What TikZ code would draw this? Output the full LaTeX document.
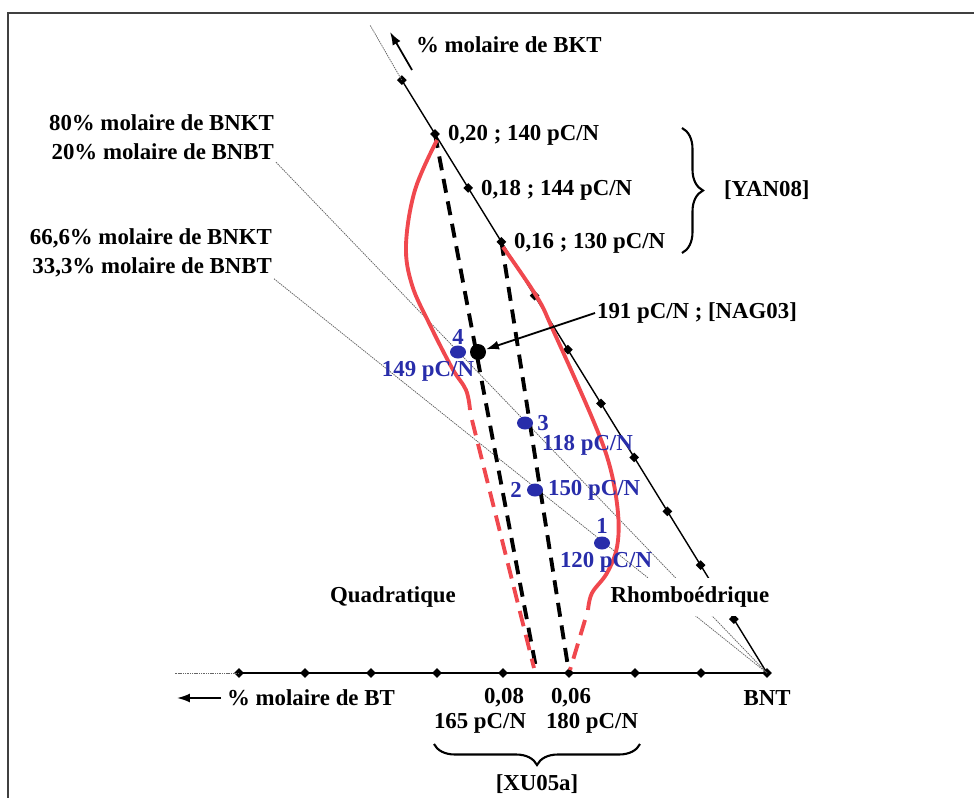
\documentclass[tikz,border=0pt]{standalone}
\usepackage{fontspec}
\setmainfont{Liberation Serif}
\usetikzlibrary{shapes.geometric,decorations.pathreplacing,arrows.meta}

\definecolor{ptblue}{RGB}{40,45,170}
\definecolor{ptred}{RGB}{240,72,78}

\begin{document}
\begin{tikzpicture}[x=0.02cm, y=-0.02cm,
    lbl/.style={font=\fontsize{13}{15}\selectfont\bfseries, inner sep=1pt},
    bluelbl/.style={lbl, text=ptblue},
    tick/.style={diamond, fill=black, inner sep=0pt, minimum size=0.2cm},
    axisline/.style={line width=0.8pt},
    faint/.style={line width=0.45pt, black!60, dash pattern=on 0.8pt off 0.5pt},
    phase/.style={line width=2.2pt, dash pattern=on 8pt off 5pt},
    redline/.style={line width=2.2pt, ptred},
    reddash/.style={line width=2.2pt, ptred, dash pattern=on 9pt off 5pt},
    bdot/.style={ellipse, fill=ptblue, inner sep=0pt, minimum width=0.32cm, minimum height=0.26cm},
    ptr/.style={line width=1pt, -{Latex[length=2.6mm, width=1.8mm]}},
    brc/.style={line width=1.2pt, decorate, decoration={brace, amplitude=0.42cm}}]

    \useasboundingbox (0,0) rectangle (974,798);
    \draw[line width=1.1pt, black!75] (974,13) -- (8,13) -- (8,798);

    % the two axes from BNT
    \node[tick] (bnt) at (767,673) {};
    \foreach \k in {1,...,8}
        \node[tick] (h\k) at ({767-66*\k},673) {};
    \foreach \k in {1,...,11}
        \node[tick] (k\k) at ({767-33.2*\k},{673-53.9*\k}) {};

    \coordinate (bktend) at (370,25);
    \coordinate (btend) at (175,673);
    \draw[faint] (k11.center) -- (bktend);
    \draw[faint] (h8.center) -- (btend);
    \draw[axisline] (bnt.center) -- (k11.center);
    \draw[axisline] (bnt.center) -- (h8.center);

    \coordinate (bktA) at (412,70);
    \coordinate (bktB) at (390,32);
    \draw[ptr] (bktA) -- (bktB);
    \node[lbl, anchor=west] (bktlbl) at (414,45) {\% molaire de BKT};

    % compositions BNKT / BNBT
    \node[lbl, anchor=east] (bnkt1) at (276,123) {80\% molaire de BNKT};
    \node[lbl, anchor=east] (bnbt1) at (276,152) {20\% molaire de BNBT};
    \node[lbl, anchor=east] (bnkt2) at (274,238) {66,6\% molaire de BNKT};
    \node[lbl, anchor=east] (bnbt2) at (274,267) {33,3\% molaire de BNBT};
    \draw[faint] (bnbt1.south east) -- (bnt.center);
    \draw[faint] (bnbt2.south east) -- (bnt.center);

    % phase boundaries
    \coordinate (x07) at (537,673);
    \draw[phase] (k10.center) -- (x07);
    \draw[phase] (k8.center) -- (h3.center);

    \draw[redline] plot[smooth, tension=0.6] coordinates {(437,140) (415,190) (406,245)
        (412,285) (430,325) (452,368) (466,390) (470,410)};
    \draw[reddash] (472,420) -- (534,668);
    \draw[redline] plot[smooth, tension=0.6] coordinates {(503,247) (537,297) (553,330)
        (593,420) (610,467) (618,513) (617,547) (607,573) (592,593) (588,610)};
    \draw[reddash] (585,620) -- (570,670);

    % measured points
    \node[bdot] (p4) at (458,352) {};
    \node[bdot] (p3) at (525,423) {};
    \node[bdot] (p2) at (535,490) {};
    \node[bdot] (p1) at (602,543) {};
    \node[circle, fill=black, inner sep=0pt, minimum size=0.32cm] (nag) at (478,352) {};

    \node[bluelbl] (n4) at (458,337) {4};
    \node[bluelbl] (v4) at (428,371) {149 pC/N};
    \node[bluelbl] (n3) at (543,423) {3};
    \node[bluelbl, anchor=west] (v3) at (540,445) {118 pC/N};
    \node[bluelbl] (n2) at (516,490) {2};
    \node[bluelbl, anchor=west] (v2) at (546,490) {150 pC/N};
    \node[bluelbl] (n1) at (602,526) {1};
    \node[bluelbl] (v1) at (606,562) {120 pC/N};

    \node[lbl, anchor=west] (naglbl) at (595,313) {191 pC/N ; [NAG03]};
    \draw[ptr] (naglbl.west) -- (nag);

    % values on the BKT axis
    \node[lbl, anchor=west] (y20) at (446,135) {0,20 ; 140 pC/N};
    \node[lbl, anchor=west] (y18) at (479,190) {0,18 ; 144 pC/N};
    \node[lbl, anchor=west] (y16) at (512,243) {0,16 ; 130 pC/N};
    \coordinate (yanT) at (682,128);
    \coordinate (yanB) at (682,253);
    \draw[brc] (yanT) -- (yanB);
    \node[lbl, anchor=west] (yan) at (722,190) {[YAN08]};

    % phases
    \node[lbl] (quad) at (393,597) {Quadratique};
    \node[lbl, fill=white, inner xsep=1pt, inner ysep=0.17cm] (rhombo) at (690,597) {Rhombo\'edrique};

    % values on the BT axis
    \node[lbl, anchor=west] (btlbl) at (225,698) {\% molaire de BT};
    \coordinate (btA) at (221,698);
    \coordinate (btB) at (177,698);
    \draw[ptr] (btA) -- (btB);
    \node[lbl] (x08) at (504,698) {0,08};
    \node[lbl] (x06) at (571,698) {0,06};
    \node[lbl] (bntlbl) at (767,698) {BNT};
    \node[lbl] (v08) at (480,723) {165 pC/N};
    \node[lbl] (v06) at (592,723) {180 pC/N};
    \coordinate (xuR) at (640,744);
    \coordinate (xuL) at (434,744);
    \draw[brc] (xuR) -- (xuL);
    \node[lbl] (xu) at (537,784) {[XU05a]};

\end{tikzpicture}
\end{document}
